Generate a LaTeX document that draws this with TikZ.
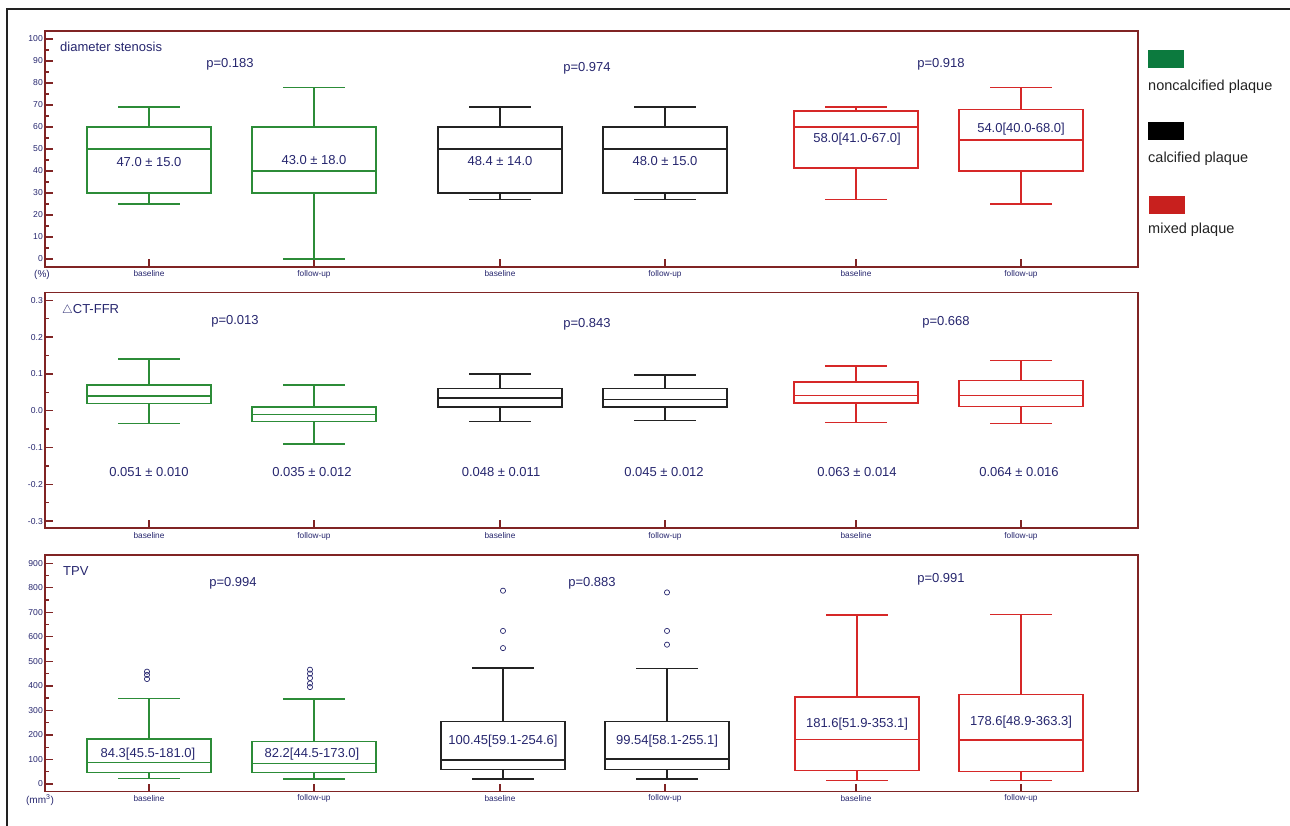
\documentclass[tikz,border=0pt]{standalone}
\usepackage{fontspec}
\setmainfont{Liberation Sans}

\definecolor{txtblue}{RGB}{38,38,110}
\definecolor{framered}{RGB}{128,36,36}
\definecolor{boxgreen}{RGB}{44,140,56}
\definecolor{boxred}{RGB}{214,40,40}
\definecolor{boxblack}{RGB}{35,35,35}
\definecolor{leggreen}{RGB}{12,122,62}
\definecolor{legred}{RGB}{200,32,30}
\definecolor{outerline}{RGB}{34,34,34}

% box plot: x, low, q1, median, q3, high, style
\newcommand{\bplot}[7]{%
  \draw[#7] (#1-62,#3) rectangle (#1+62,#5) (#1-62,#4) -- (#1+62,#4)
    (#1,#5) -- (#1,#6) (#1-31,#6) -- (#1+31,#6)
    (#1,#3) -- (#1,#2) (#1-31,#2) -- (#1+31,#2);}

\begin{document}
\begin{tikzpicture}[x=1pt,y=1pt,
  frame/.style={draw=framered,line width=1.4pt},
  tick/.style={draw=framered,line width=1.3pt},
  ticklab/.style={text=txtblue,font=\fontsize{8.6}{9}\selectfont,anchor=east,inner sep=0pt},
  catlab/.style={text=txtblue,font=\fontsize{8.3}{9}\selectfont,inner sep=0pt},
  val/.style={text=txtblue,font=\fontsize{13}{15}\selectfont,inner sep=0pt},
  ttl/.style={val,anchor=west},
  gbox/.style={draw=boxgreen,line width=1.4pt},
  kbox/.style={draw=boxblack,line width=1.4pt},
  rbox/.style={draw=boxred,line width=1.4pt},
  outl/.style={draw=txtblue,line width=0.7pt},
  legbox/.style={minimum width=36pt,minimum height=18pt,inner sep=0pt},
  legtxt/.style={anchor=west,font=\fontsize{14.5}{16}\selectfont,text=outerline,inner sep=0pt}]
\useasboundingbox (0,0) rectangle (1290,826);
\draw[line width=2pt,draw=outerline] (7,0) -- (7,817) -- (1290,817);

% panel frames, category ticks and labels
\draw[frame] (45,559) rectangle (1138,795);
\draw[frame] (45,298) rectangle (1138,533.3);
\draw[frame] (45,34.3) rectangle (1138,271);
\foreach \yb/\yl/\p in {559/552/a,298/290/b,34.3/27.3/c}
  \foreach \cx/\lab [count=\i] in {149/baseline,314/follow-up,500/baseline,665/follow-up,856/baseline,1021/follow-up}{
    \draw[tick] (\cx,\yb) -- (\cx,\yb+8);
    \node[catlab] (cat\p\i) at (\cx,\yl) {\lab};
  }
\node[catlab,font=\fontsize{10}{11}\selectfont] (unitA) at (42,551) {(\%)};
\node[catlab,font=\fontsize{10}{11}\selectfont] (unitC) at (40,26) {(mm\textsuperscript{3})};

% diameter stenosis
\begin{scope}[shift={(0,567)},y=2.2pt]
  \foreach \v [count=\i] in {0,10,...,100}{
    \draw[tick] (45,\v) -- (53,\v);
    \node[ticklab] (ya\i) at (43,\v) {\v};
  }
  \foreach \v in {5,15,...,95}
    \draw[tick] (45,\v) -- (49,\v);
  \node[ttl] (ttlA) at (60,96.4) {diameter stenosis};
  \node[val] (pA1) at (230,88.6) {p=0.183};
  \node[val] (pA2) at (587,86.8) {p=0.974};
  \node[val] (pA3) at (941,88.6) {p=0.918};
  \bplot{149}{25}{30}{50}{60}{69}{gbox}
  \bplot{314}{0}{30}{40}{60}{78}{gbox}
  \bplot{500}{27}{30}{50}{60}{69}{kbox}
  \bplot{665}{27}{30}{50}{60}{69}{kbox}
  \bplot{856}{27}{41.4}{60}{67.3}{69}{rbox}
  \bplot{1021}{25}{40}{54}{68}{78}{rbox}
  \node[val] (vA1) at (149,44.1) {47.0 ± 15.0};
  \node[val] (vA2) at (314,45) {43.0 ± 18.0};
  \node[val] (vA3) at (500,44.5) {48.4 ± 14.0};
  \node[val] (vA4) at (665,44.5) {48.0 ± 15.0};
  \node[val] (vA5) at (857,54.5) {58.0[41.0-67.0]};
  \node[val] (vA6) at (1021,59.1) {54.0[40.0-68.0]};
\end{scope}

% CT-FFR change
\begin{scope}[shift={(0,415.3)},y=368pt]
  \foreach \v [count=\i] in {-0.3,-0.2,-0.1,0.0,0.1,0.2,0.3}{
    \draw[tick] (45,\v) -- (53,\v);
    \node[ticklab] (yb\i) at (43,\v) {\v};
  }
  \foreach \v in {-0.25,-0.15,-0.05,0.05,0.15,0.25}
    \draw[tick] (45,\v) -- (49,\v);
  \node[ttl] (ttlB) at (62,0.274) {$\triangle$CT-FFR};
  \node[val] (pB1) at (235,0.242) {p=0.013};
  \node[val] (pB2) at (587,0.235) {p=0.843};
  \node[val] (pB3) at (946,0.24) {p=0.668};
  \bplot{149}{-0.034}{0.02}{0.04}{0.07}{0.14}{gbox}
  \bplot{314}{-0.09}{-0.03}{-0.01}{0.01}{0.07}{gbox}
  \bplot{500}{-0.03}{0.01}{0.035}{0.06}{0.10}{kbox}
  \bplot{665}{-0.027}{0.01}{0.031}{0.06}{0.097}{kbox}
  \bplot{856}{-0.032}{0.021}{0.041}{0.078}{0.121}{rbox}
  \bplot{1021}{-0.035}{0.011}{0.041}{0.082}{0.136}{rbox}
  \node[val] (vB1) at (149,-0.167) {0.051 ± 0.010};
  \node[val] (vB2) at (312,-0.167) {0.035 ± 0.012};
  \node[val] (vB3) at (501,-0.167) {0.048 ± 0.011};
  \node[val] (vB4) at (664,-0.167) {0.045 ± 0.012};
  \node[val] (vB5) at (857,-0.167) {0.063 ± 0.014};
  \node[val] (vB6) at (1019,-0.167) {0.064 ± 0.016};
\end{scope}

% TPV
\begin{scope}[shift={(0,42)},y=0.2453pt]
  \foreach \v [count=\i] in {0,100,...,900}{
    \draw[tick] (45,\v) -- (53,\v);
    \node[ticklab] (yc\i) at (43,\v) {\v};
  }
  \foreach \v in {50,150,...,850}
    \draw[tick] (45,\v) -- (49,\v);
  \node[ttl] (ttlC) at (63,869.5) {TPV};
  \node[val] (pC1) at (233,818) {p=0.994};
  \node[val] (pC2) at (592,818) {p=0.883};
  \node[val] (pC3) at (941,834) {p=0.991};
  \bplot{149}{22}{48}{87}{183}{348}{gbox}
  \bplot{314}{20}{46}{84}{174}{347}{gbox}
  \bplot{503}{20}{58}{98}{254}{473}{kbox}
  \bplot{667}{20}{58}{102}{254}{470}{kbox}
  \bplot{857}{14}{54}{182}{355}{689}{rbox}
  \bplot{1021}{15}{50}{179}{364}{692}{rbox}
  \foreach \cx/\v in {147/458,147/445,147/428,
                      310/466,310/450,310/432,310/410,310/395,
                      503/788,503/624,503/554,
                      667/781,667/624,667/568}
    \draw[outl] (\cx,\v) circle[radius=2.6pt];
  \node[val] (vC1) at (148,122) {84.3[45.5-181.0]};
  \node[val] (vC2) at (312,121) {82.2[44.5-173.0]};
  \node[val] (vC3) at (503,175) {100.45[59.1-254.6]};
  \node[val] (vC4) at (667,175) {99.54[58.1-255.1]};
  \node[val] (vC5) at (857,245) {181.6[51.9-353.1]};
  \node[val] (vC6) at (1021,251) {178.6[48.9-363.3]};
\end{scope}

% legend
\node[legbox,fill=leggreen] (lgG) at (1166,767) {};
\node[legtxt] (ltG) at (1148,739) {noncalcified plaque};
\node[legbox,fill=black] (lgK) at (1166,694.5) {};
\node[legtxt] (ltK) at (1148,667) {calcified plaque};
\node[legbox,fill=legred] (lgR) at (1167,621) {};
\node[legtxt] (ltR) at (1148,596) {mixed plaque};
\end{tikzpicture}
\end{document}
